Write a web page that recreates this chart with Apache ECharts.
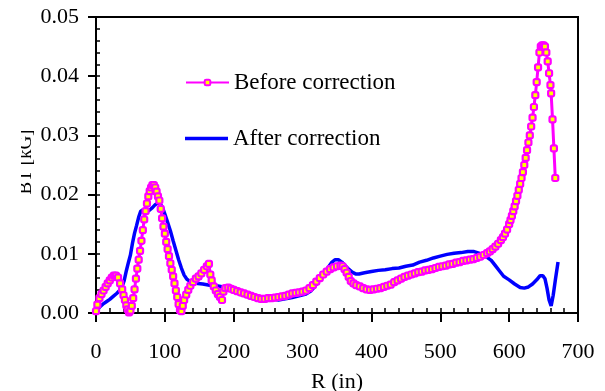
<!DOCTYPE html>
<html>
<head>
<meta charset="utf-8">
<script src="https://cdn.jsdelivr.net/npm/echarts@6/dist/echarts.min.js"></script>
<style>html,body{margin:0;padding:0;background:#fff;}#c{width:605px;height:391px;}</style>
</head>
<body>
<div id="c"></div>
<script>
// ---- data ----
const seriesNames = ['Before correction', 'After correction'];
const xTicks = [0, 100, 200, 300, 400, 500, 600, 700];
const yTicks = ['0.00', '0.01', '0.02', '0.03', '0.04', '0.05'];
const xLabel = 'R (in)';
const yLabel = 'BT [kG]';

// Before correction: [R, value]
const beforeR = [0,2,5,8,11,14,17,20,23,26,29,32,35,38,40,42,44,46,48,
50,52,54,56,58,60,62,64,66,68,70,72,74,76,78,80,82,84,86,
88,90,92,94,96,98,100,102,104,106,108,110,112,114,116,118,120,122,124,
126,128,131,134,137,141,145,149,153,157,161,164,
166,168,171,174,177,180,183,185,188,192,196,200,205,210,215,220,225,230,235,240,245,250,255,260,265,270,275,280,285,290,295,300,305,310,315,320,325,330,335,340,345,350,355,358,361,364,367,370,374,378,383,388,393,398,403,408,413,418,423,428,433,438,443,448,453,458,463,468,473,478,483,488,493,498,503,508,513,518,523,528,533,538,543,548,553,558,563,568,572,576,580,584,588,591,594,597,600,602,604,606,608,610,612,614,616,618,620,622,624,626,628,630,632,634,636,638,640,642,644,646,648,650,652,654,656,658,660,661,663,665,667];
const beforeV = [0.0003,0.0014,0.0025,0.0032,0.0038,0.0044,0.0050,0.0055,0.0060,0.0063,0.0063,0.0060,0.0050,0.0040,0.0030,0.0022,0.0013,0.0006,0.0001,
0.0004,0.0012,0.0025,0.0040,0.0058,0.0075,0.0090,0.0105,0.0122,0.0140,0.0158,0.0172,0.0185,0.0197,0.0206,0.0212,0.0216,0.0216,0.0212,
0.0205,0.0197,0.0190,0.0176,0.0160,0.0146,0.0134,0.0120,0.0108,0.0096,0.0084,0.0073,0.0062,0.0050,0.0038,0.0027,0.0015,0.0005,0.0003,
0.0012,0.0022,0.0031,0.0039,0.0046,0.0052,0.0058,0.0062,0.0067,0.0073,0.0079,0.0083,
0.0065,0.0055,0.0045,0.0038,0.0032,0.0027,0.0022,0.0036,0.0042,0.0043,0.0041,0.0039,0.0037,0.0035,0.0033,0.0031,0.0029,0.0027,0.0025,0.0024,0.0024,0.0025,0.0025,0.0026,0.0027,0.0028,0.0029,0.0031,0.0033,0.0034,0.0035,0.0036,0.0038,0.0042,0.0047,0.0053,0.0059,0.0065,0.0070,0.0074,0.0077,0.0079,0.0080,0.0079,0.0074,0.0068,0.0061,0.0054,0.0050,0.0047,0.0045,0.0042,0.0040,0.0039,0.0040,0.0041,0.0042,0.0044,0.0046,0.0048,0.0052,0.0055,0.0058,0.0061,0.0063,0.0065,0.0067,0.0069,0.0070,0.0072,0.0073,0.0074,0.0076,0.0078,0.0079,0.0080,0.0082,0.0083,0.0085,0.0086,0.0088,0.0089,0.0090,0.0091,0.0093,0.0095,0.0098,0.0101,0.0104,0.0108,0.0112,0.0117,0.0123,0.0128,0.0134,0.0141,0.0150,0.0157,0.0164,0.0172,0.0180,0.0189,0.0198,0.0208,0.0218,0.0228,0.0238,0.0250,0.0262,0.0275,0.0288,0.0300,0.0315,0.0330,0.0348,0.0368,0.0390,0.0415,0.0440,0.0450,0.0452,0.0452,0.0450,0.0440,0.0425,0.0405,0.0385,0.0371,0.0327,0.0278,0.0228];

// After correction: [R, value]
const afterR = [0,5,10,15,20,25,30,35,38,41,44,47,50,53,56,59,62,65,69,74,78,82,86,90,94,97,100,104,108,112,116,120,124,128,132,137,142,148,155,165,175,185,195,205,215,225,235,245,255,265,275,285,295,305,312,318,324,330,336,342,347,352,357,362,367,372,377,382,390,400,410,420,430,440,450,460,470,480,490,500,510,520,530,540,548,556,562,568,574,580,586,592,600,608,616,622,628,634,640,645,649,652,655,658,661,664,667,671];
const afterV = [0.0000,0.0010,0.0015,0.0019,0.0023,0.0028,0.0033,0.0039,0.0045,0.0055,0.0071,0.0085,0.0098,0.0118,0.0135,0.0148,0.0162,0.0172,0.0175,0.0171,0.0174,0.0178,0.0183,0.0186,0.0183,0.0177,0.0167,0.0153,0.0139,0.0122,0.0106,0.0090,0.0076,0.0064,0.0057,0.0053,0.0051,0.0050,0.0049,0.0047,0.0046,0.0044,0.0042,0.0039,0.0034,0.0031,0.0028,0.0026,0.0024,0.0022,0.0024,0.0026,0.0029,0.0032,0.0037,0.0045,0.0055,0.0065,0.0075,0.0085,0.0090,0.0090,0.0086,0.0080,0.0074,0.0069,0.0066,0.0066,0.0068,0.0070,0.0072,0.0073,0.0075,0.0076,0.0079,0.0081,0.0086,0.0089,0.0093,0.0096,0.0099,0.0101,0.0102,0.0104,0.0104,0.0101,0.0098,0.0094,0.0089,0.0080,0.0071,0.0062,0.0056,0.0049,0.0043,0.0042,0.0044,0.0049,0.0056,0.0063,0.0063,0.0058,0.0042,0.0022,0.0012,0.0030,0.0055,0.0086];

const FONT = 'Liberation Serif';
const beforeData = beforeR.map((r, i) => [r, beforeV[i]]);
const afterData = afterR.map((r, i) => [r, afterV[i]]);

const chart = echarts.init(document.getElementById('c'), null, {renderer: 'canvas'});
const xBase = {type: 'value', min: xTicks[0], max: xTicks[xTicks.length - 1], interval: 100, splitLine: {show: false}};
const yBase = {type: 'value', min: Number(yTicks[0]), max: Number(yTicks[yTicks.length - 1]), interval: 0.01, splitLine: {show: false}};
const legendText = {fontFamily: FONT, fontSize: 23, color: '#000'};

chart.setOption({
  animation: false,
  backgroundColor: '#fff',
  grid: {left: 96, right: 27, top: 17, bottom: 78, containLabel: false, outerBoundsMode: 'none',
         show: true, borderColor: '#000', borderWidth: 2, backgroundColor: 'transparent'},
  legend: [
    {
      data: [seriesNames[0]],
      left: 180, top: 66,
      itemWidth: 43, itemHeight: 7,
      textStyle: legendText
    },
    {
      data: [{name: seriesNames[1], icon: 'rect'}],
      left: 180, top: 122,
      itemWidth: 43, itemHeight: 3.5,
      textStyle: legendText
    }
  ],
  xAxis: [
    Object.assign({}, xBase, {
      position: 'bottom',
      name: xLabel, nameLocation: 'middle', nameGap: 58,
      nameTextStyle: {fontFamily: FONT, fontSize: 22, color: '#000'},
      axisLine: {lineStyle: {color: '#000', width: 2}},
      axisTick: {show: true, inside: false, length: 9, lineStyle: {color: '#000', width: 2}},
      axisLabel: {fontFamily: FONT, fontSize: 22, color: '#000', margin: 28},
      minorTick: {show: false}
    }),
    Object.assign({}, xBase, {
      position: 'bottom',
      axisLine: {show: false},
      axisTick: {show: true, inside: true, length: 5, lineStyle: {color: '#000', width: 1.5}},
      axisLabel: {show: false},
      minorTick: {show: true, splitNumber: 5, length: 5, lineStyle: {color: '#000', width: 1.5}}
    })
  ],
  yAxis: [
    Object.assign({}, yBase, {
      position: 'left',
      axisLine: {show: true, lineStyle: {color: '#000', width: 2}},
      axisTick: {show: true, inside: false, length: 8, lineStyle: {color: '#000', width: 2}},
      axisLabel: {fontFamily: FONT, fontSize: 22, color: '#000', margin: 17, formatter: v => v.toFixed(2)},
      minorTick: {show: false}
    }),
    Object.assign({}, yBase, {
      position: 'left',
      axisLine: {show: false},
      axisTick: {show: true, inside: true, length: 4, lineStyle: {color: '#000', width: 1.5}},
      axisLabel: {show: false},
      minorTick: {show: true, splitNumber: 5, length: 4, lineStyle: {color: '#000', width: 1.5}}
    })
  ],
  graphic: [
    {type: 'text', rotation: Math.PI / 2, x: 26, y: 162, z: 10,
     style: {text: yLabel, fontFamily: FONT, fontSize: 19, fill: '#000', align: 'center', verticalAlign: 'middle'}},
    {type: 'rect', shape: {x: 0, y: 120, width: 21, height: 90}, z: 11, style: {fill: '#fff'}}
  ],
  series: [
    {
      name: seriesNames[1], type: 'line', data: afterData, xAxisIndex: 0, yAxisIndex: 0,
      showSymbol: false, symbol: 'none',
      lineStyle: {color: '#0000ff', width: 3.5}, itemStyle: {color: '#0000ff'}, z: 2
    },
    {
      name: seriesNames[0], type: 'line', data: beforeData, xAxisIndex: 0, yAxisIndex: 0,
      symbol: 'roundRect', symbolSize: 6, showAllSymbol: true,
      lineStyle: {color: '#ff00ff', width: 3},
      itemStyle: {color: '#ffff00', borderColor: '#ff00ff', borderWidth: 2.2}, z: 3
    }
  ]
});
</script>
</body>
</html>
